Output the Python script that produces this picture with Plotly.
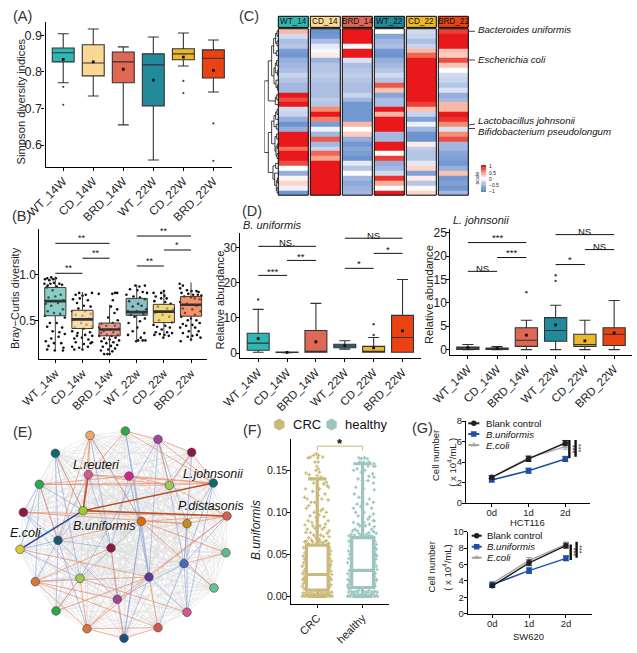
import itertools
import plotly.graph_objects as go

W, H = 637, 653
FONT = "Liberation Sans"

# ---------- shared ----------
groups_a = ["WT_14W", "CD_14W", "BRD_14W", "WT_22W", "CD_22W", "BRD_22W"]
groups_b = ["WT_14w", "CD_14w", "BRD_14w", "WT_22w", "CD_22w", "BRD_22w"]
group_colors = ["#2fb8b3", "#fbd795", "#de6853", "#228a9b", "#edb92a", "#ea4212"]
b_fill = ["rgba(47,160,150,0.55)", "rgba(250,210,140,0.75)", "rgba(222,104,83,0.65)",
          "rgba(34,125,140,0.5)", "rgba(240,200,70,0.7)", "rgba(234,90,30,0.65)"]

# ---------- panel A ----------
a_low = [0.770, 0.734, 0.655, 0.559, 0.816, 0.745]
a_q1 = [0.827, 0.789, 0.770, 0.707, 0.833, 0.783]
a_med = [0.852, 0.824, 0.827, 0.819, 0.849, 0.837]
a_q3 = [0.865, 0.874, 0.854, 0.849, 0.863, 0.860]
a_up = [0.904, 0.917, 0.868, 0.895, 0.906, 0.887]
a_mean = [0.834, 0.827, 0.807, 0.777, 0.840, 0.804]
a_out_x = [0, 0, 4, 4, 5, 5]
a_out_y = [0.759, 0.710, 0.775, 0.742, 0.659, 0.557]

# ---------- panel B ----------
b_low = [0.175, 0.17, 0.13, 0.27, 0.33, 0.27]
b_q1 = [0.55, 0.41, 0.33, 0.555, 0.475, 0.545]
b_med = [0.71, 0.51, 0.40, 0.59, 0.595, 0.67]
b_q3 = [0.86, 0.61, 0.47, 0.74, 0.675, 0.76]
b_up = [0.98, 0.81, 0.67, 0.89, 0.82, 0.915]
b_pts_0 = [(-.38,.95),(-.3,.96),(-.22,.94),(-.15,.97),(-.08,.95),(.02,.96),(-.4,.9),(-.28,.88),(-.18,.9),(-.05,.91),(.05,.87),(.15,.9),(.25,.89),(-.32,.86),(-.1,.83),(.2,.78),(-.25,.75),(.0,.76),(.3,.72),(-.35,.68),(-.15,.66),(.1,.69),(.28,.62),(-.28,.6),(-.05,.58),(.18,.57),(-.38,.55),(.35,.53),(-.2,.47),(.05,.47),(-.3,.43),(.25,.42),(-.1,.38),(.15,.37),(.35,.35),(-.35,.27),(-.05,.25),(.22,.25),(-.25,.22),(.3,.2),(-.02,.17),(.28,.17),(-.3,.18),(.12,.32),(-.15,.3)]
b_pts_1 = [(-.25,.78),(-.12,.8),(.0,.77),(.12,.78),(.35,.8),(-.35,.73),(-.1,.74),(.2,.72),(-.2,.69),(.05,.66),(.3,.65),(-.38,.6),(-.15,.63),(.1,.6),(.3,.57),(-.25,.56),(0,.55),(.25,.52),(-.35,.5),(-.05,.47),(.15,.45),(.35,.43),(-.28,.42),(.05,.41),(-.38,.38),(.28,.37),(-.18,.36),(.1,.34),(.36,.33),(-.3,.3),(-.02,.31),(.22,.29),(.35,.26),(-.25,.26),(.05,.24),(-.38,.21),(-.12,.2),(.2,.21),(.0,.18),(-.3,.18),(.3,.25),(-.2,.33)]
b_pts_2 = [(.1,.79),(.2,.8),(.28,.8),(-.4,.79),(.12,.72),(.05,.65),(.28,.62),(.18,.58),(-.05,.53),(.3,.5),(.12,.47),(-.3,.46),(-.12,.44),(.2,.44),(-.38,.42),(.02,.4),(.33,.41),(-.22,.38),(.14,.37),(-.32,.36),(.3,.34),(-.1,.34),(.08,.33),(-.38,.33),(.22,.31),(-.2,.3),(.0,.29),(.35,.28),(-.3,.27),(.14,.26),(-.12,.25),(.28,.23),(.05,.22),(-.25,.21),(.2,.19),(-.05,.18),(-.32,.17),(.1,.16),(-.2,.13),(-.08,.13),(.0,.13)]
b_pts_3 = [(-.05,.88),(.1,.87),(.3,.88),(-.25,.84),(.02,.83),(.22,.81),(.38,.8),(-.38,.78),(-.12,.76),(.12,.75),(.3,.73),(-.28,.71),(.05,.68),(-.15,.65),(.18,.66),(.35,.62),(-.33,.6),(.0,.6),(.25,.57),(-.22,.56),(-.08,.54),(.3,.52),(.12,.49),(-.3,.47),(.02,.42),(-.15,.38),(.28,.36),(-.32,.34),(.15,.31),(.05,.28),(.22,.28),(.32,.28),(-.02,.27)]
b_pts_4 = [(-.38,.8),(-.1,.8),(0,.82),(.02,.77),(-.3,.76),(-.1,.74),(.1,.74),(-.35,.71),(.05,.7),(.25,.68),(-.22,.65),(.12,.63),(.35,.62),(-.32,.58),(-.05,.56),(.2,.54),(-.18,.5),(.3,.48),(-.38,.45),(.05,.44),(.22,.42),(-.25,.43),(-.08,.4),(.12,.37),(-.3,.37),(.3,.36),(-.15,.35),(.02,.34),(.18,.33),(-.02,.31),(-.35,.34)]
b_pts_5 = [(-.42,.9),(-.3,.88),(-.4,.85),(-.15,.83),(.02,.82),(.2,.82),(.28,.81),(-.35,.8),(-.1,.79),(.08,.78),(.25,.78),(.38,.77),(-.25,.76),(.0,.75),(.14,.74),(.32,.73),(-.4,.7),(-.15,.68),(.2,.66),(-.3,.63),(.05,.62),(.35,.6),(-.22,.58),(.14,.56),(-.36,.54),(.0,.52),(-.12,.5),(.2,.5),(.32,.47),(-.3,.46),(.05,.45),(-.18,.44),(.15,.42),(-.4,.42),(.28,.38),(-.08,.38),(.22,.34),(-.3,.36),(.05,.33),(-.12,.32),(.35,.31),(-.38,.27),(.0,.29)]
b_pts = [b_pts_0, b_pts_1, b_pts_2, b_pts_3, b_pts_4, b_pts_5]
b_brackets = [(0, 1, 1.015, "**", 1.07), (1, 2, 1.18, "**", 1.235), (0, 2, 1.343, "**", 1.405),
              (3, 4, 1.095, "**", 1.155), (4, 5, 1.27, "*", 1.325), (3, 5, 1.423, "**", 1.475)]

# ---------- panel C ----------
c_cols = ["WT_14", "CD_14", "BRD_14", "WT_22", "CD_22", "BRD_22"]
c_wt14 = [.35,-.25,-.45,-.4,-.8,-.85,-.6,-.5,-.45,-.3,-.4,-.5,-.5,1,.8,1,-.25,-.3,-.6,-.9,-.6,1,1,1,.65,1,1,.8,0,-.6,.05,.2,-.1,-.85]
c_cd14 = [-.9,-.85,-.45,-.15,-.05,.1,-.55,-.4,-.4,-.35,-.4,-.45,-.45,-.45,-.35,-.4,.55,1,.6,-.8,-.1,-.5,.75,-.5,-.3,.7,.45,1,1,1,1,1,1,1]
c_brd14 = [1,1,1,-.05,1,1,-.2,-.45,-.4,-.35,-.4,-.45,-.45,-.3,-.5,-.85,-.85,-.85,-.85,.35,0,.25,-.6,-.85,-.7,-.8,-.9,-.15,-.4,0,-.5,-.65,-.55,-.5]
c_wt22 = [0,-.7,-.5,-.45,-.85,-.9,-.6,-.5,-.4,-.25,-.4,.75,.3,-.7,-.45,-.45,1,.35,1,1,1,-.5,-.5,1,1,0,.85,-.6,-.5,-.25,.9,.4,0,1]
c_cd22 = [-.25,-.3,-.45,-.3,.35,.7,1,1,1,1,1,1,1,1,1,.85,.3,-.3,-.75,-.1,-.5,-.9,-.9,.1,-.35,-.4,-.4,-.15,.2,-.75,.1,-.4,.03,.2]
c_brd22 = [.85,1,1,1,.3,.25,.8,.3,0,-.25,-.3,-.4,-.2,-.6,-.5,.35,.35,1,.9,.55,-.2,.55,.8,-.5,-.5,-.7,-.75,-.85,-.6,.3,-.85,-.75,-.85,-.5]
c_species = ["Bacteroides uniformis", "Escherichia coli", "Lactobacillus johnsonii", "Bifidobacterium pseudolongum"]
c_scale_values = [1, .8, .6, .4, .2, 0, -.2, -.4, -.6, -.8, -1]
c_scale_labels = ["1", "0.5", "0", "−0.5", "−1"]
c_tree = (42,
          (30, (20, (14, (8, (4, 0, 1), (4, 2, 3)), (6, 4, 5)),
                (13, (9, (5, 6, 7), (3, 8, 9)), (7, 10, (3, 11, 12)))),
           (9, (5, 13, 14), 15)),
          (30, (20, (13, (8, (4, 16, 17), 18), (6, 19, 20)),
                (10, (5, 21, 22), (7, (3, 23, 24), (4, 25, 26)))),
           (16, (8, 27, 28), (11, 29, (6, (3, 30, 31), (4, 32, 33))))))

# ---------- panel D ----------
d1_low = [0.2, 0.1, 0.2, 1.1, 0.2, 0.2]
d1_q1 = [0.8, 0.15, 0.2, 1.5, 0.2, 0.2]
d1_med = [2.8, 0.2, 0.25, 2.0, 0.3, 4.4]
d1_q3 = [5.6, 0.25, 6.4, 2.5, 1.9, 10.7]
d1_up = [12.4, 0.3, 14.1, 3.5, 4.4, 20.9]
d1_mean = [4.1, 0.2, 3.2, 2.1, 1.5, 6.3]
d1_out_x = [0, 4, 4]
d1_out_y = [15.2, 8.2, 5.1]
d1_brackets = [(0, 1, 22.05, "***", 23.2), (1, 2, 26.3, "**", 27.5), (0, 2, 30.3, "NS.", 31.5),
               (3, 4, 24.05, "*", 25.5), (4, 5, 28.3, "*", 29.5), (3, 5, 32.6, "NS", 33.4)]
d2_low = [0.0, 0.0, 0.0, 0.0, 0.0, 0.0]
d2_q1 = [0.02, 0.05, 0.7, 1.8, 0.7, 0.9]
d2_med = [0.3, 0.2, 2.0, 4.1, 1.1, 3.3]
d2_q3 = [0.55, 0.35, 4.7, 6.85, 3.3, 4.7]
d2_up = [1.1, 0.65, 6.3, 9.5, 6.3, 10.5]
d2_mean = [0.4, 0.3, 3.1, 5.3, 1.9, 3.6]
d2_out_x = [2, 3, 3]
d2_out_y = [12.3, 14.7, 15.9]
d2_brackets = [(0, 1, 16.75, "NS", 17.4), (1, 2, 19.7, "***", 20.7), (0, 2, 22.9, "***", 24.0),
               (3, 4, 18.2, "*", 19.3), (4, 5, 21.4, "NS", 22.1), (3, 5, 24.6, "NS", 25.2)]

# ---------- panel E ----------
e_x = [270,376,474,575,640,681,678,642,561,474,372,261,168,106,60,70,118,166,265,387,508,249,424,561,174,333,552,447,240,352]
e_y = [121,108,133,172,264,363,473,579,652,698,730,701,648,560,463,352,268,175,239,243,271,347,379,386,436,459,506,546,550,613]
e_colors = ["#f0a868","#2fa84a","#a0459a","#8e1a3f","#0f6b70","#d2604f","#5fb98f","#6abf93","#d6558f","#cf5a50",
            "#1f4e79","#d9743a","#2fa84a","#d9743a","#d4cc3a","#8e1a3f","#2aaa4a","#0f6b70","#d45a8f","#d6248f",
            "#9ccc4d","#9ccc30","#e06a12","#c88a1a","#1f5678","#8b1a3f","#4a6ab8","#5b3a9a","#9ccc4d","#a0459a"]
e_red = [(4,20),(4,19),(4,18),(4,16),(1,4),(2,4),(3,4),(2,3),(1,2),(5,29),(5,27),(27,11),(27,9),(27,12),(13,29),(13,27),(13,9),(13,11),
         (11,9),(11,10),(11,29),(9,10),(16,20),(16,19),(0,24),(16,24),(15,5),(15,23),(0,18),(0,21),(17,21),(18,20),(19,20),(3,20),(2,20),
         (5,22),(6,22),(5,23),(24,22),(26,6),(22,23),(28,11),(29,10),(25,29),(1,18),(13,25),(27,14),(20,5),(7,22),(8,28),(12,28),(0,22)]
e_blue = [(16,15),(16,24),(16,14),(16,13),(17,24),(17,21),(15,24),(14,24),(13,28),(1,27),(2,27),(2,23),(2,20),(3,20),(4,26),(4,23),(4,8),
          (10,27),(8,26),(7,26),(9,26),(10,22),(12,24),(12,28),(13,24),(28,22),(19,27),(0,22),(1,22),(20,26),(26,29),(25,10),(24,29),(24,25),
          (17,28),(18,24),(18,25),(19,25),(21,24),(22,27),(22,10),(23,26),(23,8),(5,26),(14,28),(15,28),(27,8),(11,24),(16,21),(3,26),(2,28),(0,25)]
e_strong_red = [(21,18),(21,4),(21,5)]
e_strong_blue = [(21,14)]
e_labels = ["L.reuteri", "L.johnsonii", "P.distasonis", "B.uniformis", "E.coli"]

# ---------- panel F ----------
f_groups = ["CRC", "healthy"]
f_colors = ["#c9b97a", "#9cc4c0"]
f_low = [0.0, 0.0]
f_q1 = [0.0075, 0.0105]
f_med = [0.026, 0.031]
f_q3 = [0.061, 0.070]
f_up = [0.140, 0.158]
f_crc_dx = [-.2,-.15,-.08,-.02,.01,.03,.12,-.05,.02,-.01,-.25,-.18,-.03,.02,.05,.0,-.12,.08,-.08,.2,.22,.25,.14,-.26,-.1,.05,.17,-.28,-.22,.02,.1,-.06,.24,-.19,-.14,.0,.12,-.24,-.07,.08,.2,-.16,.04,-.03,.15,-.2,-.12,.0,.24,.18,-.27,-.1,.06,.16,-.22,-.05,.11,.26,-.15,.0,-.25,-.08,.08,.22,.14,-.19,-.03,.05,-.13,.26,.18,-.28,-.1,.06,-.2,.25,.12,-.02,.2,-.24]
f_crc_y = [.165,.166,.168,.17,.165,.168,.166,.16,.16,.155,.147,.145,.15,.152,.148,.144,.14,.142,.135,.136,.132,.13,.134,.128,.125,.128,.122,.118,.116,.12,.116,.112,.115,.108,.112,.108,.104,.105,.1,.102,.1,.096,.097,.094,.095,.09,.088,.09,.09,.086,.085,.084,.084,.082,.08,.081,.08,.078,.076,.077,.076,.073,.073,.075,.071,.07,.07,.068,.067,.071,.066,.065,.065,.065,.063,.063,.064,.062,.066,.066]
f_crc_side_dx = [-.3,-.27,-.31,-.28,-.3,-.33,-.26,-.29,-.32,-.27,-.3,-.28,-.31,-.33,.27,.3,.28,.26,.31,.29,.27,.3,.32,.28,.26,.3,.27,.29,-.29,-.32,.31,.27]
f_crc_side_y = [.058,.052,.048,.044,.04,.036,.033,.03,.027,.024,.021,.018,.015,.012,.058,.054,.05,.046,.042,.038,.034,.03,.026,.022,.018,.014,.011,.037,.009,.02,.02,.045]
f_crc_bot_dx = [-.33,-.3,-.27,-.24,-.21,-.18,-.15,-.12,-.09,-.06,-.03,.0,.03,.06,.09,.12,.15,.18,.21,.24,.27,.3,.33,-.31,-.25,-.2,-.14,-.08,.02,.08,.14,.2,.26,.32]
f_crc_bot_y = [.0,.001,.0,.002,.0,.001,.0,.001,.0,.002,.0,.001,.0,.001,.0,.002,.0,.001,.0,.002,.0,.001,.0,.004,.004,.003,.004,.003,.003,.004,.003,.004,.004,.005]
f_hea_dx = [-.08,-.03,.04,.1,-.06,.02,.14,.25,.12,.24,.28,-.2,-.12,-.03,.05,.22,.14,.25,-.1,.0,.12,.24,-.15,.02,.26,-.18,-.08,.15,.0,-.12,-.04,-.2,.1,.24,-.15,.03,.2,-.1,.24,.16,.0,.12,.25,-.2,-.1,.03,.24,-.06,.15,.2,-.17,.06,.26,-.22,-.12,.0,.14,.24,-.08,.08,.3,-.25,-.18,.12,.22,-.3,-.05,.16,-.14,.02,.26,-.24,.1,.2]
f_hea_y = [.165,.164,.165,.164,.16,.16,.16,.158,.155,.155,.155,.15,.152,.148,.15,.146,.143,.142,.14,.138,.138,.135,.13,.128,.127,.122,.118,.116,.112,.11,.107,.105,.11,.112,.1,.1,.105,.096,.098,.095,.094,.092,.09,.088,.086,.088,.09,.084,.086,.08,.08,.084,.083,.078,.078,.08,.076,.077,.075,.074,.075,.074,.073,.072,.071,.072,.072,.072,.07,.073,.07,.07,.07,.071]
f_hea_side_dx = [-.3,-.27,-.31,-.28,-.3,-.33,-.26,-.29,-.32,-.27,-.3,-.28,-.31,-.33,.27,.3,.28,.26,.31,.29,.27,.3,.32,.28,.26,.3,.27,.29,-.29,-.32,.31,.27,-.26,.3,.28,-.3]
f_hea_side_y = [.066,.06,.054,.05,.045,.04,.036,.031,.027,.024,.02,.017,.014,.012,.066,.062,.058,.053,.048,.044,.04,.036,.032,.027,.023,.019,.015,.05,.009,.02,.02,.045,.064,.056,.012,.01]
f_hea_bot_dx = [-.33,-.3,-.27,-.24,-.21,-.18,-.15,-.12,-.09,-.06,-.03,.0,.03,.06,.09,.12,.15,.18,.21,.24,.27,.3,.33,-.31,-.25,-.2,-.14,-.08,.02,.08,.14,.2,.26,.32]
f_hea_bot_y = [.0,.001,.0,.003,.0,.002,.0,.004,.0,.002,.0,.003,.0,.002,.0,.004,.0,.002,.0,.003,.0,.001,.0,.005,.006,.005,.006,.007,.006,.005,.007,.005,.006,.005]

# ---------- panel G ----------
g_x = ["0d", "1d", "2d"]
g_names = ["Blank control", "B.uniformis", "E.coli"]
g_colors = ["#231f20", "#1f4fa8", "#a6a6a6"]
g_symbols = ["circle", "square", "triangle-up"]
g1_blank = [2.5, 4.3, 5.85]
g1_bu = [2.25, 3.15, 4.3]
g1_ecoli = [2.5, 4.4, 5.5]
g1_err = [0.15, 0.25, 0.25]
g2_blank = [3.4, 6.2, 8.3]
g2_bu = [3.55, 5.25, 6.75]
g2_ecoli = [3.7, 6.5, 8.45]
g2_err = [0.2, 0.35, 0.3]

# ---------- building helpers ----------
fig = go.Figure()
layout = {}
annots = []
shapes = []
axis_n = [0]


def add_axes(l, r, t, b, xr, yr, visible=True, overlay=None, **kw):
    axis_n[0] += 1
    n = axis_n[0]
    base = dict(showgrid=False, zeroline=False, showline=visible, linecolor="black", linewidth=1.1, automargin=False,
                ticks="outside" if visible else "", ticklen=3, tickwidth=1, tickcolor="black",
                showticklabels=visible, tickfont=dict(family=FONT, size=12, color="#222"), fixedrange=True)
    s = "" if n == 1 else str(n)
    xa = dict(base, domain=[l / W, r / W], range=list(xr), anchor=f"y{s}")
    ya = dict(base, domain=[1 - b / H, 1 - t / H], range=list(yr), anchor=f"x{s}")
    if visible:
        xa["ticklabelstandoff"] = -1
        ya["ticklabelstandoff"] = -3
    if overlay:
        xa["overlaying"] = f"x{overlay}"
        ya["overlaying"] = f"y{overlay}"
    xa.update(kw.get("xkw", {}))
    ya.update(kw.get("ykw", {}))
    layout[f"xaxis{s}"] = xa
    layout[f"yaxis{s}"] = ya
    return (f"x{s}", f"y{s}", n)


# page-sized hidden axes: text and legend keys are placed on it
axP = add_axes(0, W, 0, H, (0, W), (H, 0), visible=False)


def T(x, y, text, size=12, anchor="left", angle=0, color="#222"):
    annots.append(dict(x=x, y=y, xref=axP[0], yref=axP[1], text=text, showarrow=False,
                       xanchor=anchor, yanchor="middle", textangle=angle,
                       font=dict(family=FONT, size=size, color=color)))


def DT(ax, x, y, text, size=8):
    annots.append(dict(x=x, y=y, xref=ax[0], yref=ax[1], text=text, showarrow=False, xanchor="center",
                       yanchor="middle", font=dict(family=FONT, size=size, color="#111")))


def boxes(ax, low, q1, med, q3, up, fills, width, lw=1.1, line="#333", whisk=0.5):
    for i in range(len(low)):
        lc = line[i] if isinstance(line, list) else line
        fig.add_trace(go.Box(x=[i], lowerfence=[low[i]], q1=[q1[i]], median=[med[i]], q3=[q3[i]], upperfence=[up[i]],
                             width=width, whiskerwidth=whisk, fillcolor=fills[i], line=dict(color=lc, width=lw),
                             boxpoints=False, xaxis=ax[0], yaxis=ax[1], hoverinfo="skip"))


def dots(ax, x, y, size=2.5, color="#111", symbol="square", opacity=1):
    fig.add_trace(go.Scatter(x=x, y=y, mode="markers", xaxis=ax[0], yaxis=ax[1], hoverinfo="skip",
                             marker=dict(size=size, color=color, symbol=symbol, opacity=opacity, line=dict(width=0))))


def brackets(ax, items, size=9):
    xs, ys = [], []
    for a, b, y, label, ty in items:
        xs += [a, b, None]
        ys += [y, y, None]
        DT(ax, (a + b) / 2, ty, label, size)
    fig.add_trace(go.Scatter(x=xs, y=ys, mode="lines", line=dict(color="#111", width=1), xaxis=ax[0], yaxis=ax[1],
                             hoverinfo="skip"))


def xcat(labels, size=11.5, angle=-45):
    return dict(tickmode="array", tickvals=list(range(len(labels))), ticktext=labels, tickangle=angle,
                tickfont=dict(family=FONT, size=size, color="#222"))


# ---------- A ----------
axA = add_axes(45.5, 232, 22, 167, (-0.59, 5.62), (0.54, 0.936),
               xkw=xcat(groups_a, 11.8), ykw=dict(tickvals=[0.6, 0.7, 0.8, 0.9], ticktext=["0.6", "0.7", "0.8", "0.9"],
                                                  tickfont=dict(family=FONT, size=12.5, color="#222")))
boxes(axA, a_low, a_q1, a_med, a_q3, a_up, group_colors, 0.73)
dots(axA, list(range(6)), a_mean, 2.8)
dots(axA, a_out_x, a_out_y, 2.2, "#444", "circle")
T(20.7, 101.7, "Simpson diversity indices", 11.2, "center", -90)
T(11, 16, "(A)", 14.5, color="#333")

# ---------- B ----------
axB = add_axes(39.3, 207.3, 229, 359.3, (-0.59, 5.6), (0.073, 1.5),
               xkw=xcat(groups_b, 11.5), ykw=dict(tickvals=[0.5, 1.0], ticktext=["0.5", "1.0"],
                                                  tickfont=dict(family=FONT, size=12, color="#222")))
for i, pts in enumerate(b_pts):
    dots(axB, [i + p[0] for p in pts], [p[1] for p in pts], 2.6, "#111", "circle")
axB2 = add_axes(39.3, 207.3, 229, 359.3, (-0.59, 5.6), (0.073, 1.5), visible=False, overlay=axB[2])
boxes(axB2, b_low, b_q1, b_med, b_q3, b_up, b_fill, 0.78, lw=1, line="#3a3a3a", whisk=0)
for i in range(6):
    fig.add_trace(go.Scatter(x=[i - 0.39, i + 0.39], y=[b_med[i], b_med[i]], mode="lines", xaxis=axB2[0], yaxis=axB2[1],
                             line=dict(color="#333", width=2.6), hoverinfo="skip"))
brackets(axB2, b_brackets, 9)
T(15, 298, "Bray−Curtis diversity", 11, "center", -90)
T(10, 216, "(B)", 14.5, color="#333")

# ---------- C ----------
c_matrix = [list(r) for r in zip(c_wt14, c_cd14, c_brd14, c_wt22, c_cd22, c_brd22)]
c_scale = [[0, "#5f8bcb"], [0.25, "#a3b7e0"], [0.5, "#ffffff"], [0.75, "#f59a7e"], [1, "#e8181b"]]
axC = add_axes(277.3, 469.3, 28.7, 195.2, (-0.5, 5.5), (33.5, -0.5), visible=False)
fig.add_trace(go.Heatmap(z=c_matrix, x=list(range(6)), y=list(range(34)), zmin=-1, zmax=1, colorscale=c_scale, xgap=2,
                         xaxis=axC[0], yaxis=axC[1], hoverinfo="skip", showscale=False))
axCS = add_axes(481, 486, 165, 192, (-0.5, 0.5), (len(c_scale_values) - 0.5, -0.5), visible=False)
fig.add_trace(go.Heatmap(z=[[v] for v in c_scale_values], zmin=-1, zmax=1, colorscale=c_scale, xaxis=axCS[0], yaxis=axCS[1],
                         hoverinfo="skip", showscale=False))
for lab, ypx in zip(c_scale_labels, [166, 172.5, 178.7, 185, 191]):
    T(487, ypx, lab, 5, color="#222")
for i, name in enumerate(c_cols):
    left = 278.3 + 32 * i
    shapes.append(dict(type="rect", xref="paper", yref="paper", x0=left / W, x1=(left + 30) / W, y0=1 - 195.2 / H,
                       y1=1 - 28.7 / H, line=dict(color="black", width=1), fillcolor="rgba(0,0,0,0)"))
    shapes.append(dict(type="rect", xref="paper", yref="paper", x0=left / W, x1=(left + 30) / W, y0=1 - 27.4 / H,
                       y1=1 - 16.3 / H, line=dict(color="black", width=1), fillcolor=group_colors[i]))
    T(left + 15, 21.8, name, 8.2, "center", color="#111")
axD0 = add_axes(264.3, 278.3, 28.7, 195.2, (42, 0), (33.5, -0.5), visible=False)
tx, ty = [], []


def walk(node):
    if isinstance(node, int):
        return 0, node
    h, a, b = node
    ha, ya = walk(a)
    hb, yb = walk(b)
    tx.extend([ha, h, h, hb, None])
    ty.extend([ya, ya, yb, yb, None])
    return h, (ya + yb) / 2


walk(c_tree)
fig.add_trace(go.Scatter(x=tx, y=ty, mode="lines", line=dict(color="#111", width=0.8), xaxis=axD0[0], yaxis=axD0[1],
                         hoverinfo="skip"))
for name, ypx, y0, y1 in zip(c_species, [29.5, 59.7, 120.7, 131.7], [31.3, 60, 125, 128.5], [31.3, 60, 124, 128.5]):
    T(476.3, ypx, f"<i>{name}</i>", 9.7, color="#111")
    shapes.append(dict(type="line", xref="paper", yref="paper", x0=469 / W, x1=475 / W, y0=1 - y0 / H, y1=1 - y1 / H,
                       line=dict(color="#111", width=0.8)))
T(476, 178.5, "scale", 5.5, "center", -90)
T(237, 16, "(C)", 14.5, color="#333")

# ---------- D ----------
axD1 = add_axes(240.3, 420.7, 233.3, 358.3, (-0.62, 5.63), (-1.5, 34),
                xkw=xcat(groups_a), ykw=dict(tickvals=[0, 10, 20, 30], tickfont=dict(family=FONT, size=12, color="#222")))
boxes(axD1, d1_low, d1_q1, d1_med, d1_q3, d1_up, group_colors, 0.76)
dots(axD1, list(range(6)), d1_mean, 2.8)
dots(axD1, d1_out_x, d1_out_y, 2.4, "#444", "circle")
brackets(axD1, d1_brackets, 9.5)
T(219.5, 300, "Relative abundance", 11.2, "center", -90)
T(240.7, 225, "<i>B. uniformis</i>", 11)
T(240, 211, "(D)", 14.5, color="#333")

axD2 = add_axes(450.3, 631.7, 229, 355, (-0.6, 5.6), (-1.14, 25.8),
                xkw=xcat(groups_a), ykw=dict(tickvals=[0, 5, 10, 15, 20, 25], tickfont=dict(family=FONT, size=12, color="#222")))
boxes(axD2, d2_low, d2_q1, d2_med, d2_q3, d2_up, group_colors, 0.76)
dots(axD2, list(range(6)), d2_mean, 2.8)
dots(axD2, d2_out_x, d2_out_y, 2.4, "#444", "circle")
brackets(axD2, d2_brackets, 9.5)
T(429, 295, "Relative abundance", 11.2, "center", -90)
T(450.7, 220, "<i>L. johnsonii</i>", 11)

# ---------- E ----------
axE = add_axes(0, 250, 395, 653, (0, 750), (774, 0), visible=False)


def edges(pairs):
    xs, ys = [], []
    for a, b in pairs:
        xs += [e_x[a], e_x[b], None]
        ys += [e_y[a], e_y[b], None]
    return xs, ys


coloured = set(tuple(sorted(p)) for p in e_red + e_blue + e_strong_red + e_strong_blue)
gray_pairs = [p for p in itertools.combinations(range(30), 2) if p not in coloured]
for pairs, col, lw in [(gray_pairs, "#dcdcdc", 0.55), (e_blue, "#8ea6d8", 0.65), (e_red, "#e88a68", 0.7),
                       (e_strong_red, "#b8502a", 1.6), (e_strong_blue, "#264a9c", 1.6)]:
    ex, ey = edges(pairs)
    fig.add_trace(go.Scatter(x=ex, y=ey, mode="lines", line=dict(color=col, width=lw), xaxis=axE[0], yaxis=axE[1],
                             hoverinfo="skip"))
fig.add_trace(go.Scatter(x=e_x, y=e_y, mode="markers", xaxis=axE[0], yaxis=axE[1], hoverinfo="skip",
                         marker=dict(size=8.6, color=e_colors, line=dict(color="#444", width=0.6))))
for name, px_, py_ in zip(e_labels, [71, 181, 176, 71, 8], [464.5, 474, 506, 525.5, 533]):
    T(px_, py_, f"<i>{name}</i>", 12.5, color="#111")
T(11, 432, "(E)", 14.5, color="#333")

# ---------- F ----------
axF = add_axes(290.7, 389.3, 439, 604.3, (-0.587, 1.59), (-0.0095, 0.1875),
               xkw=xcat(f_groups, 11), ykw=dict(tickvals=[0, 0.05, 0.10, 0.15], ticktext=["0.00", "0.05", "0.10", "0.15"],
                                                tickfont=dict(family=FONT, size=10.6, color="#222")))
for i, (dx, y, sdx, sy, bdx, by) in enumerate([(f_crc_dx, f_crc_y, f_crc_side_dx, f_crc_side_y, f_crc_bot_dx, f_crc_bot_y),
                                               (f_hea_dx, f_hea_y, f_hea_side_dx, f_hea_side_y, f_hea_bot_dx, f_hea_bot_y)]):
    dots(axF, [i + v for v in dx + sdx + bdx], y + sy + by, 3, f_colors[i], "cross")
axF2 = add_axes(290.7, 389.3, 439, 604.3, (-0.587, 1.59), (-0.0095, 0.1875), visible=False, overlay=axF[2])
boxes(axF2, f_low, f_q1, f_med, f_q3, f_up, ["rgba(255,255,255,0.9)"] * 2, 0.48, lw=3.2, line=f_colors, whisk=0.85)
fig.add_trace(go.Scatter(x=[0, 0, 1, 1], y=[0.174, 0.179, 0.179, 0.174], mode="lines", xaxis=axF2[0], yaxis=axF2[1],
                         line=dict(color=f_colors[0], width=1), hoverinfo="skip"))
DT(axF2, 0.5, 0.1825, "<b>*</b>", 13)
T(256, 530, "<i>B.uniformis</i>", 12, "center", -90)
T(241, 430, "(F)", 14.5, color="#333")
for i, (lx, tx_, name) in enumerate([(279.3, 290.5, "CRC"), (331.5, 342.5, "healthy")]):
    dots(axP, [lx], [424.5], 12, f_colors[i], "hexagon")
    T(tx_, 424.5, name, 13, color="#111")

# ---------- G ----------
for series, err, dom, yr, yticks, xlabel, xl_y, bars, stars in [
    ((g1_blank, g1_bu, g1_ecoli), g1_err, (466, 590.3, 421, 503), (0, 8), [0, 2, 4, 6, 8], "HCT116", 522.5,
     [(2.11, 6.15, 4.36), (2.28, 6.15, 4.5)], [(2.2, 5.3), (2.36, 5.4)]),
    ((g2_blank, g2_bu, g2_ecoli), g2_err, (467.7, 591.7, 531.7, 613.7), (0, 10), [0, 2, 4, 6, 8, 10], "SW620", 636.7,
     [(2.13, 8.45, 6.54), (2.29, 8.78, 6.83)], [(2.21, 7.6), (2.37, 7.9)]),
]:
    xrng = (-0.70, 2.68) if yr[1] == 8 else (-0.668, 2.70)
    ax = add_axes(dom[0], dom[1], dom[2], dom[3], xrng, yr,
                  xkw=dict(tickmode="array", tickvals=[0, 1, 2], ticktext=g_x, ticklabelstandoff=-2,
                           tickfont=dict(family=FONT, size=9.5, color="#222")),
                  ykw=dict(tickvals=yticks, ticklabelstandoff=-2, tickfont=dict(family=FONT, size=9.5, color="#222")))
    for k in [2, 1, 0]:
        fig.add_trace(go.Scatter(x=[0, 1, 2], y=series[k], mode="lines+markers", xaxis=ax[0], yaxis=ax[1], hoverinfo="skip",
                                 line=dict(color=g_colors[k], width=1.5),
                                 marker=dict(size=5.5, color=g_colors[k], symbol=g_symbols[k]),
                                 error_y=dict(type="data", array=err, color=g_colors[k], thickness=1, width=3)))
    for bx, by0, by1 in bars:
        fig.add_trace(go.Scatter(x=[bx, bx], y=[by0, by1], mode="lines", xaxis=ax[0], yaxis=ax[1], hoverinfo="skip",
                                 line=dict(color="#111", width=2.4)))
    for sx, sy in stars:
        annots.append(dict(x=sx, y=sy, xref=ax[0], yref=ax[1], text="***", showarrow=False, textangle=90,
                           font=dict(family=FONT, size=7, color="#111")))
    T((dom[0] + dom[1]) / 2 - 1, xl_y, xlabel, 9.5, "center")

for ys, lx0, lx1, tx_ in [((423.3, 434, 445), 468.3, 479.3, 484), ((535.7, 546.7, 557.7), 471.7, 481.7, 485.3)]:
    for k in range(3):
        fig.add_trace(go.Scatter(x=[lx0, lx1], y=[ys[k], ys[k]], mode="lines", xaxis=axP[0], yaxis=axP[1], hoverinfo="skip",
                                 line=dict(color=g_colors[k], width=2)))
        dots(axP, [(lx0 + lx1) / 2], [ys[k]], 5.5, g_colors[k], g_symbols[k])
        label = g_names[k] if k == 0 else f"<i>{g_names[k]}</i>"
        T(tx_, ys[k], label, 9.6, color="#111")

T(435, 456, "Cell number", 9.5, "center", -90)
T(451.7, 462, "( x 10<sup>4</sup>/mL )", 9.5, "center", -90)
T(431.7, 566.7, "Cell number", 9.5, "center", -90)
T(446.7, 568, "( x 10<sup>4</sup>/mL)", 9.5, "center", -90)
T(410, 428, "(G)", 14.5, color="#333")

fig.update_layout(width=W, height=H, margin=dict(l=0, r=0, t=0, b=0), paper_bgcolor="white", plot_bgcolor="rgba(0,0,0,0)",
                  showlegend=False, annotations=annots, shapes=shapes, font=dict(family=FONT), boxmode="overlay", **layout)
fig.write_html("out.html", post_script="document.body.style.margin='0';document.body.style.overflow='hidden';",
               config={"displayModeBar": False})
